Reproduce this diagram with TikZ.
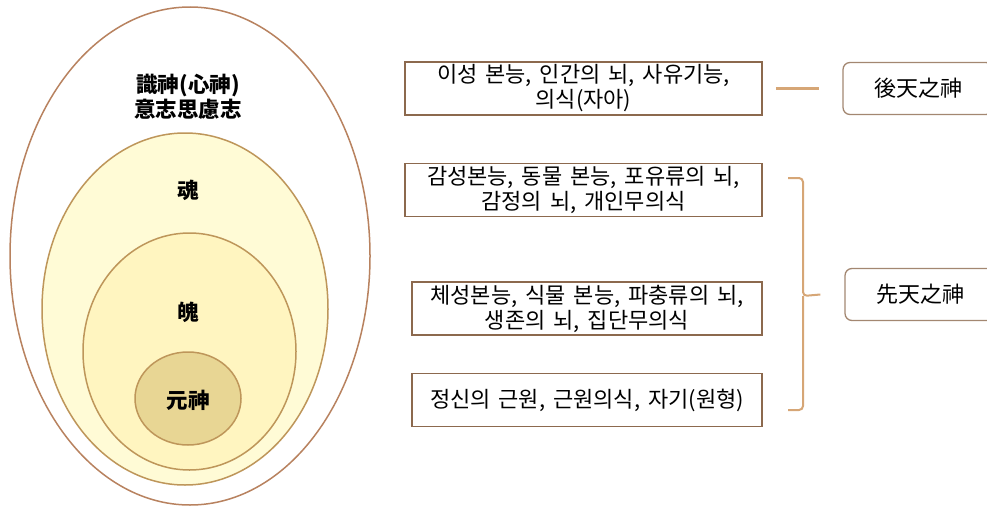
\documentclass[tikz,border=0pt]{standalone}
\usepackage{fontspec}
\newfontfamily\kr{Noto Sans CJK KR}
\newfontfamily\krwide[WordSpace=1.6]{Noto Sans CJK KR}
\usetikzlibrary{shapes.geometric}
\definecolor{rimbrown}{RGB}{184,130,95}
\definecolor{goldline}{RGB}{190,150,90}
\definecolor{paleyellow}{RGB}{255,251,214}
\definecolor{lightyellow}{RGB}{255,245,192}
\definecolor{coreyellow}{RGB}{232,214,148}
\definecolor{boxbrown}{RGB}{140,105,78}
\definecolor{tanline}{RGB}{214,166,118}
\begin{document}
\begin{tikzpicture}[x=1pt,y=-1pt,
    hanja/.style={font=\kr\fontsize{21.5}{25}\selectfont\bfseries,align=center},
    traitbox/.style={draw=boxbrown,line width=1.8pt,font=\krwide\fontsize{22}{25}\selectfont,
      align=center,minimum height=53pt,inner sep=0pt},
    godbox/.style={draw=boxbrown!80,line width=1.3pt,rounded corners=7pt,
      font=\kr\fontsize{22}{25}\selectfont,minimum width=150pt,minimum height=52pt},
    link/.style={draw=tanline,line width=2.6pt},
    brace/.style={draw=tanline,line width=2pt,rounded corners=4pt}]
  \useasboundingbox (0,0) rectangle (987,506);
  \clip (0,0) rectangle (987,506);
  \draw[rimbrown,line width=1.5pt,fill=white] (190,256) ellipse [x radius=180pt,y radius=249pt];
  \draw[goldline,line width=1.5pt,fill=paleyellow] (185,309) ellipse [x radius=143pt,y radius=176pt];
  \draw[goldline,line width=1.5pt,fill=lightyellow] (189.5,351.5) ellipse [x radius=106.5pt,y radius=118.5pt];
  \draw[goldline,line width=1.5pt,fill=coreyellow] (188,398.5) ellipse [x radius=53pt,y radius=46.5pt];
  \node[hanja] (sik) at (188,97) {識神(心神)\\意志思慮志};
  \node[hanja] (hon) at (188,190) {魂};
  \node[hanja] (baek) at (188,312) {魄};
  \node[hanja] (won) at (188,400) {元神};
  \node[traitbox,minimum width=357pt] (reason) at (583.5,88.5) {이성 본능, 인간의 뇌, 사유기능,\\의식(자아)};
  \node[traitbox,minimum width=357pt] (emotion) at (583.5,190) {감성본능, 동물 본능, 포유류의 뇌,\\감정의 뇌, 개인무의식};
  \node[traitbox,minimum width=350pt] (body) at (587,308.5) {체성본능, 식물 본능, 파충류의 뇌,\\생존의 뇌, 집단무의식};
  \node[traitbox,minimum width=350pt] (origin) at (587,400) {정신의 근원, 근원의식, 자기(원형)};
  \node[godbox] (after) at (918,88.5) {後天之神};
  \node[godbox] (before) at (920,294.5) {先天之神};
  \draw[link] ([xshift=13pt]reason.east) -- ([xshift=-23pt]after.west);
  \coordinate (btop) at (788,178);
  \coordinate (bbot) at (788,410);
  \coordinate (btip) at ([xshift=-24pt]before.west);
  \draw[brace] (btop) -- (803,178) -- (803,296) -- (btip);
  \draw[brace] (bbot) -- (803,410) -- (803,296);
\end{tikzpicture}
\end{document}
